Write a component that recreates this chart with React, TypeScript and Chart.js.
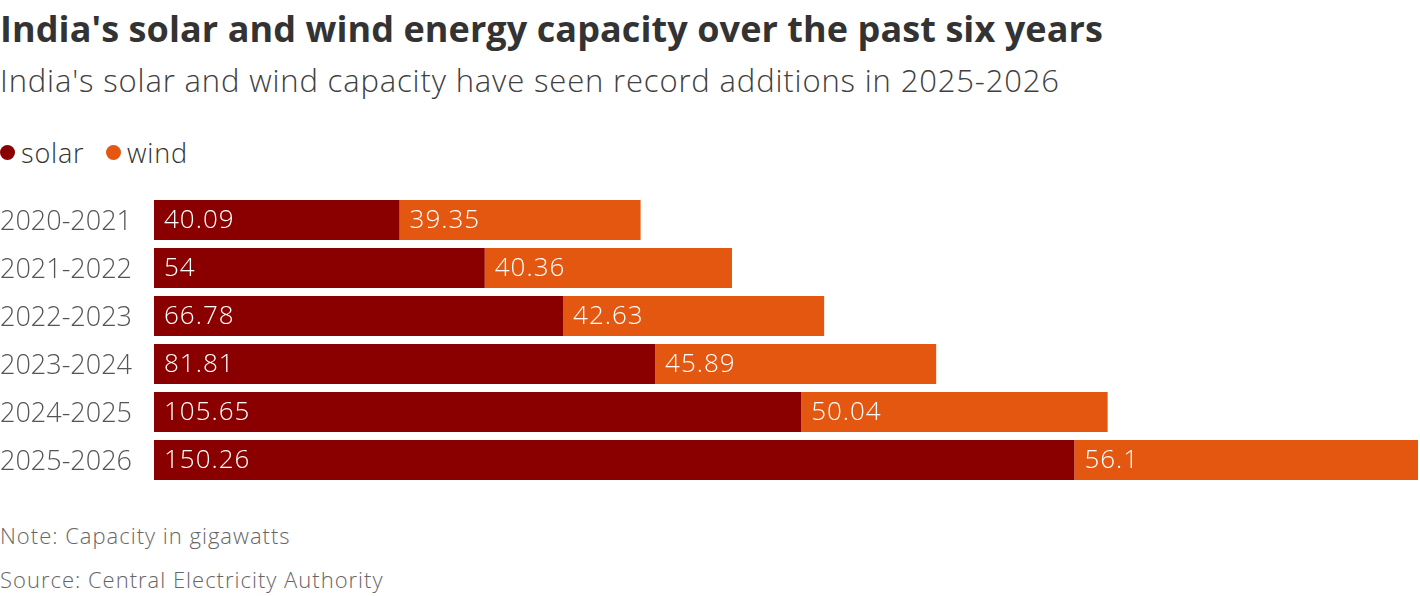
import React, { useEffect, useRef } from "react";
import { Chart, registerables } from "chart.js";

Chart.register(...registerables);

const categories = ["2020-2021", "2021-2022", "2022-2023", "2023-2024", "2024-2025", "2025-2026"];
const solar = [40.09, 54, 66.78, 81.81, 105.65, 150.26];
const wind = [39.35, 40.36, 42.63, 45.89, 50.04, 56.1];

const SOLAR_COLOR = "#8a0000";
const WIND_COLOR = "#e35710";
const FONT = "'Open Sans', Lato, sans-serif";

// White value labels written inside each bar segment, near its left edge
const barLabels = {
  id: "barLabels",
  afterDatasetsDraw(chart: any) {
    const ctx = chart.ctx;
    ctx.save();
    ctx.fillStyle = "#ffffff";
    ctx.font = `300 26px ${FONT}`;
    (ctx as any).letterSpacing = "1px";
    ctx.textBaseline = "middle";
    ctx.textAlign = "left";
    chart.data.datasets.forEach((ds: any, di: number) => {
      const meta = chart.getDatasetMeta(di);
      meta.data.forEach((bar: any, i: number) => {
        const p = bar.getProps(["x", "y", "base"], true);
        ctx.fillText(String(ds.data[i]), Math.min(p.base, p.x) + 10, p.y + 1);
      });
    });
    ctx.restore();
  },
};

function BarChart() {
  const ref = useRef<HTMLCanvasElement>(null);
  useEffect(() => {
    if (!ref.current) return;
    const totals = solar.map((s, i) => s + wind[i]);
    const chart = new Chart(ref.current, {
      type: "bar",
      data: {
        labels: categories,
        datasets: [
          { label: "solar", data: solar, backgroundColor: SOLAR_COLOR, borderWidth: 0 },
          { label: "wind", data: wind, backgroundColor: WIND_COLOR, borderWidth: 0 },
        ],
      },
      options: {
        indexAxis: "y",
        animation: false,
        responsive: false,
        maintainAspectRatio: false,
        datasets: { bar: { barPercentage: 1, categoryPercentage: 40 / 48 } },
        layout: { padding: { top: 21, bottom: 21, left: 0, right: 2 } },
        plugins: { legend: { display: false }, tooltip: { enabled: false } },
        scales: {
          x: {
            stacked: true,
            display: false,
            min: 0,
            max: Math.max(...totals),
          },
          y: {
            stacked: true,
            grid: { display: false },
            border: { display: false },
            afterFit: (scale: any) => {
              scale.width = 154;
            },
            ticks: {
              crossAlign: "far",
              padding: 0,
              labelOffset: 2,
              color: "#555555",
              font: { family: FONT, size: 27, weight: "300" as any },
            },
          },
        },
      },
      plugins: [barLabels],
    });
    return () => chart.destroy();
  }, []);
  return <canvas ref={ref} width={1420} height={330} style={{ position: "absolute", left: 0, top: 175 }} />;
}

function LegendItem({ color, label, left }: { color: string; label: string; left: number }) {
  return (
    <div style={{ position: "absolute", left, top: 136, display: "flex", alignItems: "center", height: 32 }}>
      <span style={{ width: 15, height: 15, borderRadius: "50%", background: color, display: "inline-block", marginRight: 6 }} />
      <span style={{ fontSize: 27, fontWeight: 300, color: "#333", letterSpacing: 0.8 }}>{label}</span>
    </div>
  );
}

export default function App() {
  useEffect(() => {
    document.body.style.margin = "0";
  }, []);
  return (
    <div style={{ position: "relative", width: 1420, height: 596, fontFamily: FONT, background: "#fff", overflow: "hidden" }}>
      <div style={{ position: "absolute", left: 0, top: 4, fontSize: 36, fontWeight: 700, color: "#333", whiteSpace: "nowrap", letterSpacing: 0.08 }}>
        India's solar and wind energy capacity over the past six years
      </div>
      <div style={{ position: "absolute", left: 0, top: 59, fontSize: 31, fontWeight: 300, color: "#404040", whiteSpace: "nowrap", letterSpacing: 0.85 }}>
        India's solar and wind capacity have seen record additions in 2025-2026
      </div>
      <LegendItem color={SOLAR_COLOR} label="solar" left={0} />
      <LegendItem color={WIND_COLOR} label="wind" left={106} />
      <BarChart />
      <div style={{ position: "absolute", left: 0, top: 520, fontSize: 22, fontWeight: 300, color: "#666", whiteSpace: "nowrap", letterSpacing: 1 }}>
        Note: Capacity in gigawatts
      </div>
      <div style={{ position: "absolute", left: 0, top: 564, fontSize: 22, fontWeight: 300, color: "#666", whiteSpace: "nowrap", letterSpacing: 1 }}>
        Source: Central Electricity Authority
      </div>
    </div>
  );
}
